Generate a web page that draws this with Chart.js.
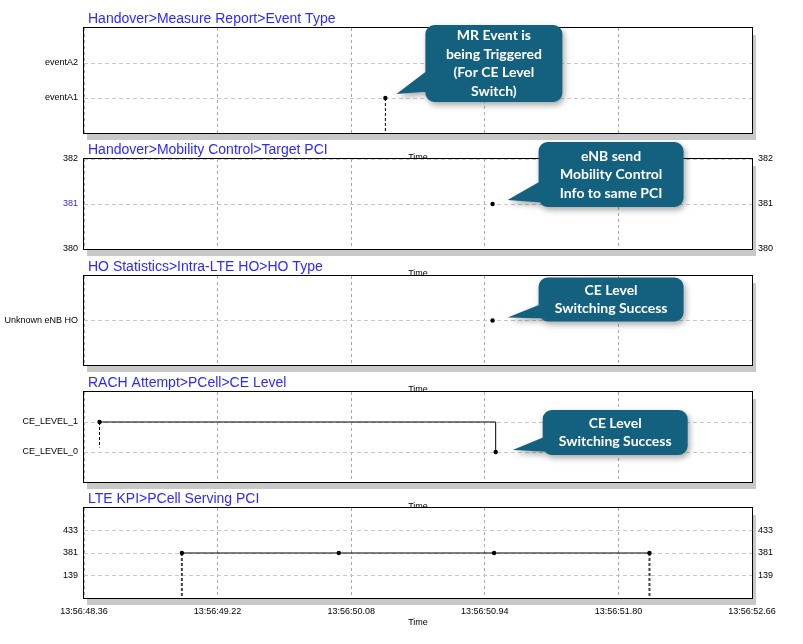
<!DOCTYPE html>
<html><head><meta charset="utf-8">
<script src="https://cdn.jsdelivr.net/npm/chart.js@4.4.0/dist/chart.umd.min.js"></script>
<style>
html,body{margin:0;padding:0;background:#fff;width:803px;height:644px;overflow:hidden;position:relative;}
canvas{position:absolute;left:0;}
</style></head><body>
<canvas id="c1"></canvas>
<canvas id="c2"></canvas>
<canvas id="c3"></canvas>
<canvas id="c4"></canvas>
<canvas id="c5"></canvas>
<script>
// ---------- data ----------
const timePrefix = '13:56:';
const xTickValues = [48.36, 49.22, 50.08, 50.94, 51.80, 52.66];

const mrTitle = 'Handover>Measure Report>Event Type';
const mrCategories = ['eventA1', 'eventA2'];
const mrTimes = [50.30];
const mrEvents = ['eventA1'];

const pciTitle = 'Handover>Mobility Control>Target PCI';
const pciTicks = [380, 381, 382];
const pciTimes = [50.99];
const pciValues = [381];

const hoTitle = 'HO Statistics>Intra-LTE HO>HO Type';
const hoCategories = ['Unknown eNB HO'];
const hoTimes = [50.99];
const hoTypes = ['Unknown eNB HO'];

const ceTitle = 'RACH Attempt>PCell>CE Level';
const ceCategories = ['CE_LEVEL_0', 'CE_LEVEL_1'];
const ceTimes = [48.46, 51.01];
const ceLevels = ['CE_LEVEL_1', 'CE_LEVEL_0'];

const servTitle = 'LTE KPI>PCell Serving PCI';
const servCategories = ['139', '381', '433'];
const servTimes = [48.99, 50.00, 51.00, 52.00];
const servPci = ['381', '381', '381', '381'];

const callout1Text = ['MR Event is', 'being Triggered', '(For CE Level', 'Switch)'];
const callout2Text = ['eNB send', 'Mobility Control', 'Info to same PCI'];
const callout3Text = ['CE Level', 'Switching Success'];
const callout4Text = ['CE Level', 'Switching Success'];

// ---------- helpers ----------
const FONT = '"Liberation Sans", Arial, sans-serif';
const BLUE = '#2a2aff';

function drawCallout(ctx, ax, ay, c) {
  const bx = ax + c.dx, by = ay + c.dy, w = c.w, h = c.h, r = 9;
  const tx = ax + c.tipDx, ty = ay + c.tipDy;
  ctx.save();
  ctx.shadowColor = 'rgba(0,0,0,0.35)';
  ctx.shadowBlur = 6; ctx.shadowOffsetX = 2; ctx.shadowOffsetY = 3;
  ctx.fillStyle = '#14607f';
  ctx.beginPath();
  ctx.moveTo(bx + r, by);
  ctx.lineTo(bx + w - r, by); ctx.arcTo(bx + w, by, bx + w, by + r, r);
  ctx.lineTo(bx + w, by + h - r); ctx.arcTo(bx + w, by + h, bx + w - r, by + h, r);
  ctx.lineTo(bx + r, by + h); ctx.arcTo(bx, by + h, bx, by + h - r, r);
  ctx.lineTo(bx, by + r); ctx.arcTo(bx, by, bx + r, by, r);
  ctx.closePath();
  // tail, same (clockwise) winding as the box
  ctx.moveTo(bx + 10, by + c.tailB);
  ctx.lineTo(tx, ty);
  ctx.lineTo(bx + 4, by + c.tailA);
  ctx.closePath();
  ctx.fill('nonzero');
  ctx.restore();
  ctx.save();
  ctx.fillStyle = '#fff';
  ctx.font = 'bold 14px Lato, "Open Sans", sans-serif';
  ctx.textAlign = 'center'; ctx.textBaseline = 'middle';
  const lh = 18.5;
  const start = by + (h - lh * c.text.length) / 2 + lh / 2;
  c.text.forEach((t, i) => ctx.fillText(t, bx + w / 2, start + i * lh));
  ctx.restore();
}

function buildPanel(p) {
  const cv = document.getElementById(p.id);
  cv.width = 803; cv.height = p.canvasH; cv.style.top = p.canvasTop + 'px';
  const decor = {
    id: 'decor',
    beforeDraw(chart) {
      const {ctx, chartArea: a} = chart;
      ctx.save();
      ctx.fillStyle = '#c8c8c8';
      ctx.fillRect(a.left + 3, a.top + 7, a.right - a.left + 1, a.bottom - a.top);
      ctx.fillStyle = '#fff';
      ctx.fillRect(a.left, a.top, a.right - a.left, a.bottom - a.top);
      ctx.restore();
    },
    afterDraw(chart) {
      const {ctx, chartArea: a} = chart;
      ctx.save();
      ctx.strokeStyle = '#000'; ctx.lineWidth = 1;
      ctx.strokeRect(a.left - 0.5, a.top - 0.5, a.right - a.left + 1, a.bottom - a.top + 1);
      ctx.font = '14px ' + FONT;
      ctx.fillStyle = BLUE; ctx.textAlign = 'left'; ctx.textBaseline = 'alphabetic';
      ctx.fillText(p.title, a.left + 4, a.top - 5);
      ctx.font = '9px ' + FONT;
      ctx.fillStyle = '#000'; ctx.textAlign = 'center'; ctx.textBaseline = 'middle';
      ctx.fillText('Time', (a.left + a.right) / 2, a.bottom + 25);
      ctx.restore();
      if (p.callout) {
        const pt = chart.getDatasetMeta(0).data[p.callout.index];
        drawCallout(ctx, pt.x, pt.y, p.callout);
      }
    }
  };

  const mainData = p.times.map((t, i) => ({x: t, y: p.yOf(p.values[i])}));
  const datasets = [{
    data: mainData, borderColor: '#000', borderWidth: 1,
    pointRadius: 2.2, pointBackgroundColor: '#000', pointBorderWidth: 0,
    stepped: p.stepped || false, order: 0
  }];
  (p.drops || []).forEach(d => {
    datasets.push({
      data: [{x: mainData[d.i].x, y: mainData[d.i].y}, {x: mainData[d.i].x, y: d.to}],
      borderColor: p.dropColor || '#000', borderWidth: p.dropWidth || 1,
      borderDash: [3, 2], pointRadius: 0, order: 1
    });
  });

  const yTickCallback = v => p.yLabel(v);
  const scales = {
    x: {
      type: 'linear', min: xTickValues[0], max: xTickValues[xTickValues.length - 1],
      afterBuildTicks: s => { s.ticks = xTickValues.map(v => ({value: v})); },
      afterFit: s => { s.height = p.xAxisH; },
      grid: {color: '#a8a8a8', drawTicks: false, lineWidth: 1},
      border: {display: false, dash: [3, 3]},
      ticks: {
        display: p.xAxisH > 0, autoSkip: false, maxRotation: 0, padding: 8,
        color: '#000', font: {family: FONT, size: 9},
        callback: v => timePrefix + Number(v).toFixed(2)
      }
    },
    y: {
      type: 'linear', position: 'left', min: p.yMin, max: p.yMax,
      afterBuildTicks: s => { s.ticks = p.yTicks.map(v => ({value: v})); },
      afterFit: s => { s.width = 84; },
      grid: {color: '#c8c8c8', drawTicks: false},
      border: {display: false, dash: [4, 3]},
      ticks: {
        padding: 6, autoSkip: false, font: {family: FONT, size: 9},
        color: p.leftColor || '#000', callback: yTickCallback
      }
    }
  };
  if (p.rightAxis) {
    scales.y2 = {
      type: 'linear', position: 'right', min: p.yMin, max: p.yMax,
      afterBuildTicks: s => { s.ticks = p.yTicks.map(v => ({value: v})); },
      afterFit: s => { s.width = 51; },
      grid: {drawOnChartArea: false, drawTicks: false},
      border: {display: false},
      ticks: {padding: 6, autoSkip: false, font: {family: FONT, size: 9}, color: '#000', callback: yTickCallback}
    };
  }
  new Chart(cv, {
    type: 'line',
    data: {datasets},
    options: {
      responsive: false, animation: false, devicePixelRatio: 1,
      layout: {padding: {left: 0, right: p.rightAxis ? 0 : 51, top: p.padTop, bottom: p.padBottom}},
      plugins: {legend: {display: false}, title: {display: false}, tooltip: {enabled: false}},
      scales
    },
    plugins: [decor]
  });
}

// ---------- panels ----------
buildPanel({
  id: 'c1', canvasTop: 0, canvasH: 159, padTop: 28, padBottom: 26, xAxisH: 0,
  title: mrTitle, times: mrTimes, values: mrEvents,
  yOf: v => mrCategories.indexOf(v), yLabel: v => mrCategories[v],
  yMin: -1, yMax: 2, yTicks: mrCategories.map((c, i) => i),
  drops: [{i: 0, to: -1}],
  callout: {index: 0, dx: 40, dy: -73, w: 137, h: 77, tipDx: 11, tipDy: -4, tailA: 44, tailB: 66, text: callout1Text}
});
buildPanel({
  id: 'c2', canvasTop: 136, canvasH: 140, padTop: 23, padBottom: 27, xAxisH: 0,
  title: pciTitle, times: pciTimes, values: pciValues,
  yOf: v => v, yLabel: v => String(v),
  yMin: pciTicks[0], yMax: pciTicks[pciTicks.length - 1], yTicks: pciTicks,
  rightAxis: true,
  leftColor: ctx => (ctx.tick && ctx.tick.value === pciValues[0]) ? BLUE : '#000',
  callout: {index: 0, dx: 46, dy: -62, w: 145, h: 65, tipDx: 15, tipDy: -4, tailA: 38, tailB: 61, text: callout2Text}
});
buildPanel({
  id: 'c3', canvasTop: 252, canvasH: 140, padTop: 24, padBottom: 27, xAxisH: 0,
  title: hoTitle, times: hoTimes, values: hoTypes,
  yOf: v => hoCategories.indexOf(v), yLabel: v => hoCategories[v],
  yMin: -1, yMax: 1, yTicks: hoCategories.map((c, i) => i),
  callout: {index: 0, dx: 46, dy: -43, w: 145, h: 44, tipDx: 15, tipDy: -3, tailA: 26, tailB: 41, text: callout3Text}
});
buildPanel({
  id: 'c4', canvasTop: 369, canvasH: 139, padTop: 23, padBottom: 26, xAxisH: 0,
  title: ceTitle, times: ceTimes, values: ceLevels, stepped: true,
  yOf: v => ceCategories.indexOf(v), yLabel: v => ceCategories[v],
  yMin: -1, yMax: 2, yTicks: ceCategories.map((c, i) => i),
  drops: [{i: 0, to: 0.15}],
  callout: {index: 1, dx: 47, dy: -42, w: 145, h: 45, tipDx: 17, tipDy: -2, tailA: 26, tailB: 42, text: callout4Text}
});
buildPanel({
  id: 'c5', canvasTop: 485, canvasH: 159, padTop: 23, padBottom: 0, xAxisH: 46,
  title: servTitle, times: servTimes, values: servPci,
  yOf: v => servCategories.indexOf(v), yLabel: v => servCategories[v],
  yMin: -1, yMax: 3, yTicks: servCategories.map((c, i) => i),
  rightAxis: true,
  drops: [{i: 0, to: -1}, {i: 3, to: -1}], dropColor: '#444', dropWidth: 2
});
</script>
</body></html>
